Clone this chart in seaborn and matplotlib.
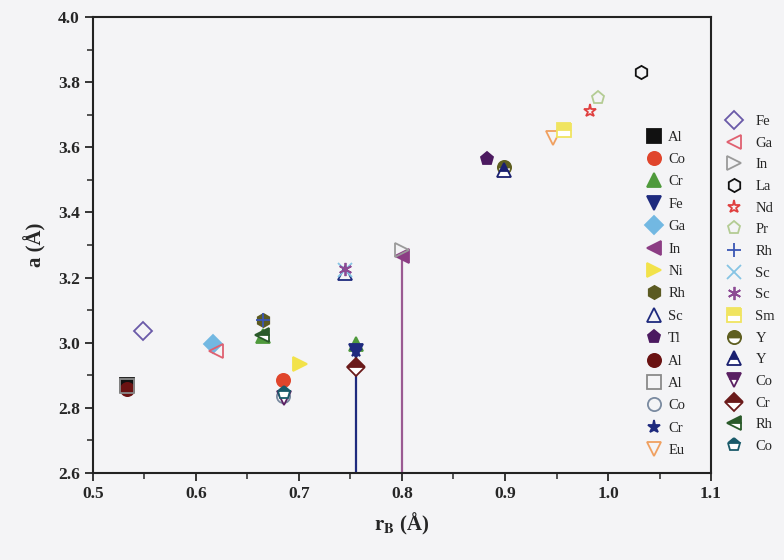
import matplotlib
matplotlib.use('Agg')

import matplotlib.pyplot as plt
import seaborn as sns
from matplotlib.lines import Line2D
from matplotlib.ticker import MultipleLocator

# === data ===
# left legend group
left_labels = ["Al", "Co", "Cr", "Fe", "Ga", "In", "Ni", "Rh", "Sc", "Tl",
               "Al", "Al", "Co", "Cr", "Eu"]
left_x = [[0.533], [0.684], [0.665, 0.755], [0.755], [0.617], [0.800], [0.701],
          [0.665], [0.745], [0.883], [0.533], [0.533], [0.684], [0.755], [0.947]]
left_y = [[2.870], [2.885], [3.020, 2.995], [2.975], [2.995], [3.266], [2.935],
          [3.070], [3.214], [3.563], [2.858], [2.868], [2.835], [2.975], [3.630]]

# right legend group
right_labels = ["Fe", "Ga", "In", "La", "Nd", "Pr", "Rh", "Sc", "Sc", "Sm",
                "Y", "Y", "Co", "Cr", "Rh", "Co"]
right_x = [[0.549], [0.619], [0.800], [1.032], [0.983], [0.990], [0.665], [0.745],
           [0.745], [0.957], [0.899], [0.899], [0.685], [0.755], [0.664], [0.685]]
right_y = [[3.035], [2.975], [3.285], [3.831], [3.710], [3.750], [3.070], [3.222],
           [3.225], [3.652], [3.540], [3.530], [2.830], [2.925], [3.024], [2.845]]

# drop lines
stem_x = [0.755, 0.800]
stem_top = [2.925, 3.266]

# === styles ===
left_styles = [
    dict(marker='s', color='#111111', fill='full', open=False),
    dict(marker='o', color='#e0452c', fill='full', open=False),
    dict(marker='^', color='#4f9a3c', fill='full', open=False),
    dict(marker='v', color='#1e2a7e', fill='full', open=False),
    dict(marker='D', color='#72b8e2', fill='full', open=False),
    dict(marker='<', color='#8c3d84', fill='full', open=False),
    dict(marker='>', color='#f2e24a', fill='full', open=False),
    dict(marker='h', color='#5b5a22', fill='full', open=False),
    dict(marker='^', color='#1e2a7e', fill='full', open=True),
    dict(marker='p', color='#4c1a60', fill='full', open=False),
    dict(marker='o', color='#6a1212', fill='full', open=False),
    dict(marker='s', color='#8a8a8a', fill='full', open=True),
    dict(marker='o', color='#7a8aa0', fill='full', open=True),
    dict(marker='*', color='#1e2a7e', fill='full', open=False),
    dict(marker='v', color='#f0a060', fill='full', open=True),
]
right_styles = [
    dict(marker='D', color='#6a5aa8', fill='full', open=True),
    dict(marker='<', color='#e06070', fill='full', open=True),
    dict(marker='>', color='#9a9a9a', fill='full', open=True),
    dict(marker='h', color='#111111', fill='full', open=True),
    dict(marker='*', color='#e04040', fill='full', open=True),
    dict(marker='p', color='#b4cc94', fill='full', open=True),
    dict(marker='+', color='#3a56b4', fill='full', open=False),
    dict(marker='x', color='#86c4e4', fill='full', open=False),
    dict(marker=(6, 2, 0), color='#8c4a94', fill='full', open=False),
    dict(marker='s', color='#f0e460', fill='top', open=False),
    dict(marker='o', color='#5e5e20', fill='top', open=False),
    dict(marker='^', color='#1a2070', fill='top', open=False),
    dict(marker='v', color='#5a2062', fill='top', open=False),
    dict(marker='D', color='#6a1a1a', fill='top', open=False),
    dict(marker='<', color='#2a5a2a', fill='top', open=False),
    dict(marker='p', color='#1a5a6a', fill='top', open=False),
]

MS = 9.5

sns.set_theme(style='ticks')
plt.rcParams['font.family'] = ['Liberation Serif', 'DejaVu Serif']
plt.rcParams['mathtext.fontset'] = 'stix'

bg = '#f4f4f6'
fig = plt.figure(figsize=(7.84, 5.6), dpi=100, facecolor=bg)
ax = fig.add_axes([0.1186, 0.1554, 0.7883, 0.8142])
ax.set_facecolor(bg)

# drop lines
ax.vlines(stem_x[0], 2.6, stem_top[0], color='#1e2a7e', lw=1.6, zorder=1)
ax.vlines(stem_x[1], 2.6, stem_top[1], color='#9a5a92', lw=1.6, zorder=1)


def marker_kw(st):
    kw = dict(marker=st['marker'], markersize=MS, linestyle='', markeredgewidth=1.3)
    if st['open']:
        kw.update(markerfacecolor='none', markeredgecolor=st['color'])
    elif st['fill'] == 'top':
        kw.update(markerfacecolor=st['color'], markeredgecolor=st['color'],
                  fillstyle='top', markerfacecoloralt='white')
    else:
        kw.update(markerfacecolor=st['color'], markeredgecolor=st['color'])
    return kw


def draw(xs, ys, st):
    sns.lineplot(x=xs, y=ys, ax=ax, color=st['color'], estimator=None,
                 sort=False, legend=False, **marker_kw(st))


def handle(st):
    return Line2D([], [], **marker_kw(st))


for xs, ys, st in zip(left_x, left_y, left_styles):
    draw(xs, ys, st)
for xs, ys, st in zip(right_x, right_y, right_styles):
    draw(xs, ys, st)

ax.set_xlim(0.5, 1.1)
ax.set_ylim(2.6, 4.0)
ax.xaxis.set_major_locator(MultipleLocator(0.1))
ax.xaxis.set_minor_locator(MultipleLocator(0.05))
ax.yaxis.set_major_locator(MultipleLocator(0.2))
ax.yaxis.set_minor_locator(MultipleLocator(0.1))
ax.tick_params(axis='x', which='major', direction='out', length=6, width=1.3,
               labelsize=12.5)
ax.tick_params(axis='x', which='minor', direction='out', length=4, width=1.1)
ax.tick_params(axis='y', which='major', direction='out', length=6, width=1.3,
               labelsize=12.5)
ax.tick_params(axis='y', which='minor', direction='out', length=4, width=1.1)
for lab in ax.get_xticklabels() + ax.get_yticklabels():
    lab.set_fontweight('bold')
for sp in ax.spines.values():
    sp.set_visible(True)
    sp.set_linewidth(1.5)
    sp.set_color('#222222')

ax.set_xlabel(r'$\mathbf{r_B}$ (Å)', fontsize=15, fontweight='bold', labelpad=6)
ax.set_ylabel('a (Å)', fontsize=15, fontweight='bold', labelpad=8)

leg1 = fig.legend([handle(s) for s in left_styles], left_labels,
                  loc='upper left', bbox_to_anchor=(0.815, 0.780),
                  frameon=False, fontsize=10.5, labelspacing=0.63,
                  handletextpad=0.5, handlelength=1.0, borderpad=0)
leg2 = fig.legend([handle(s) for s in right_styles], right_labels,
                  loc='upper left', bbox_to_anchor=(0.917, 0.808),
                  frameon=False, fontsize=10.5, labelspacing=0.58,
                  handletextpad=1.0, handlelength=1.0, borderpad=0)

fig.savefig('out.png', dpi=100, facecolor=bg)
